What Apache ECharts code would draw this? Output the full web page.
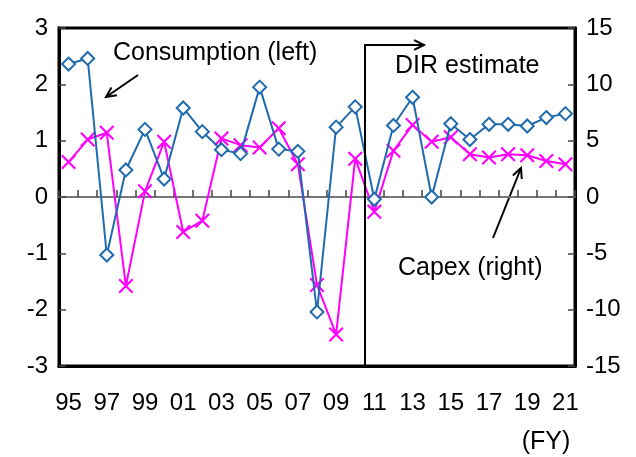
<!DOCTYPE html>
<html>
<head>
<meta charset="utf-8">
<script src="https://cdn.jsdelivr.net/npm/echarts@6/dist/echarts.min.js"></script>
<style>
  html, body { margin: 0; padding: 0; background: #fff; }
  #main { width: 636px; height: 457px; }
</style>
</head>
<body>
<div id="main"></div>
<script>
const years = ['95', '96', '97', '98', '99', '00', '01', '02', '03', '04', '05', '06', '07', '08',
  '09', '10', '11', '12', '13', '14', '15', '16', '17', '18', '19', '20', '21'];
// consumption, % (left axis)
const consumption = [2.36, 2.46, -1.03, 0.48, 1.2, 0.32, 1.58, 1.16, 0.84, 0.77, 1.95, 0.85, 0.81, -2.04,
  1.24, 1.6, -0.04, 1.27, 1.77, 0.0, 1.3, 1.02, 1.29, 1.29, 1.26, 1.41, 1.48];
// capex, % (right axis)
const capex = [3.1, 5.1, 5.7, -7.9, 0.5, 4.9, -3.1, -2.1, 5.2, 4.6, 4.4, 6.1, 2.9, -7.8,
  -12.2, 3.4, -1.3, 4.1, 6.4, 4.9, 5.3, 3.8, 3.5, 3.8, 3.7, 3.2, 2.9];
const leftTicks = [-3, 3, 1];
const rightTicks = [-15, 15, 5];

const font = 'Liberation Sans, Arial, sans-serif';
const xMark = 'path://M0,1L1,0L5,4L9,0L10,1L6,5L10,9L9,10L5,6L1,10L0,9L4,5Z';

// open arrow head + shaft
function arrow(x1, y1, x2, y2) {
  const a = Math.atan2(y2 - y1, x2 - x1), L = 11, w = 0.45;
  const p1 = [x2 - L * Math.cos(a - w), y2 - L * Math.sin(a - w)];
  const p2 = [x2 - L * Math.cos(a + w), y2 - L * Math.sin(a + w)];
  const st = {stroke: '#000', lineWidth: 2, fill: null};
  return [
    {type: 'line', shape: {x1, y1, x2, y2}, style: st},
    {type: 'polyline', shape: {points: [p1, [x2, y2], p2]}, style: st}
  ];
}

const chart = echarts.init(document.getElementById('main'));
const txt = (x, y, t, align) => ({
  type: 'text', x, y, z: 10,
  style: {text: t, font: '25px ' + font, fill: '#000', align: align || 'left', verticalAlign: 'middle'}
});

const gridTop = 28, gridBottom = 91, plotH = 457 - gridTop - gridBottom;
const tick = {show: true, inside: true, length: 7, lineStyle: {color: '#444', width: 1.5}};

chart.setOption({
  animation: false,
  grid: {left: 59, right: 61, top: gridTop, bottom: gridBottom, show: true, borderColor: '#000', borderWidth: 3, backgroundColor: 'transparent'},
  xAxis: [
    {
      type: 'category', data: years, position: 'bottom',
      axisLine: {onZero: false, lineStyle: {color: '#000', width: 3}},
      axisTick: {show: false},
      axisLabel: {interval: 1, margin: 25, fontSize: 24, fontFamily: font, color: '#000'}
    },
    {
      // zero line with its small tick marks (axis moved up to value 0)
      type: 'category', data: years, position: 'bottom', offset: -plotH / 2,
      axisLine: {onZero: false, lineStyle: {color: '#777', width: 2}},
      axisTick: Object.assign({interval: 0}, tick),
      axisLabel: {show: false}
    }
  ],
  yAxis: [
    {
      type: 'value', min: leftTicks[0], max: leftTicks[1], interval: leftTicks[2],
      axisLine: {show: true, lineStyle: {color: '#000', width: 3}},
      axisTick: tick,
      axisLabel: {fontSize: 24, fontFamily: font, color: '#000', margin: 11},
      splitLine: {show: false}
    },
    {
      type: 'value', min: rightTicks[0], max: rightTicks[1], interval: rightTicks[2],
      axisLine: {show: true, lineStyle: {color: '#000', width: 3}},
      axisTick: tick,
      axisLabel: {fontSize: 24, fontFamily: font, color: '#000', margin: 11},
      splitLine: {show: false}
    }
  ],
  series: [
    {
      name: 'Capex (right)', type: 'line', yAxisIndex: 1, data: capex,
      symbol: xMark, symbolSize: 15, showAllSymbol: true,
      lineStyle: {color: '#FF00FF', width: 2},
      itemStyle: {color: '#FF00FF'},
      z: 3
    },
    {
      name: 'Consumption (left)', type: 'line', yAxisIndex: 0, data: consumption,
      symbol: 'diamond', symbolSize: 13, showAllSymbol: true,
      lineStyle: {color: '#1F6BAE', width: 2},
      itemStyle: {color: '#fff', borderColor: '#1F6BAE', borderWidth: 2},
      z: 4
    }
  ],
  graphic: [
    txt(113, 53, 'Consumption (left)'),
    txt(395, 66, 'DIR estimate'),
    txt(398, 268, 'Capex (right)'),
    txt(546, 442, '(FY)', 'center'),
    {type: 'polyline', z: 10, shape: {points: [[365, 367], [365, 45], [424, 45]]}, style: {stroke: '#000', lineWidth: 2, fill: null}},
    ...arrow(413, 45, 424, 45).slice(1),
    ...arrow(138, 75, 106, 97),
    ...arrow(493, 238, 521, 168)
  ]
});
</script>
</body>
</html>
